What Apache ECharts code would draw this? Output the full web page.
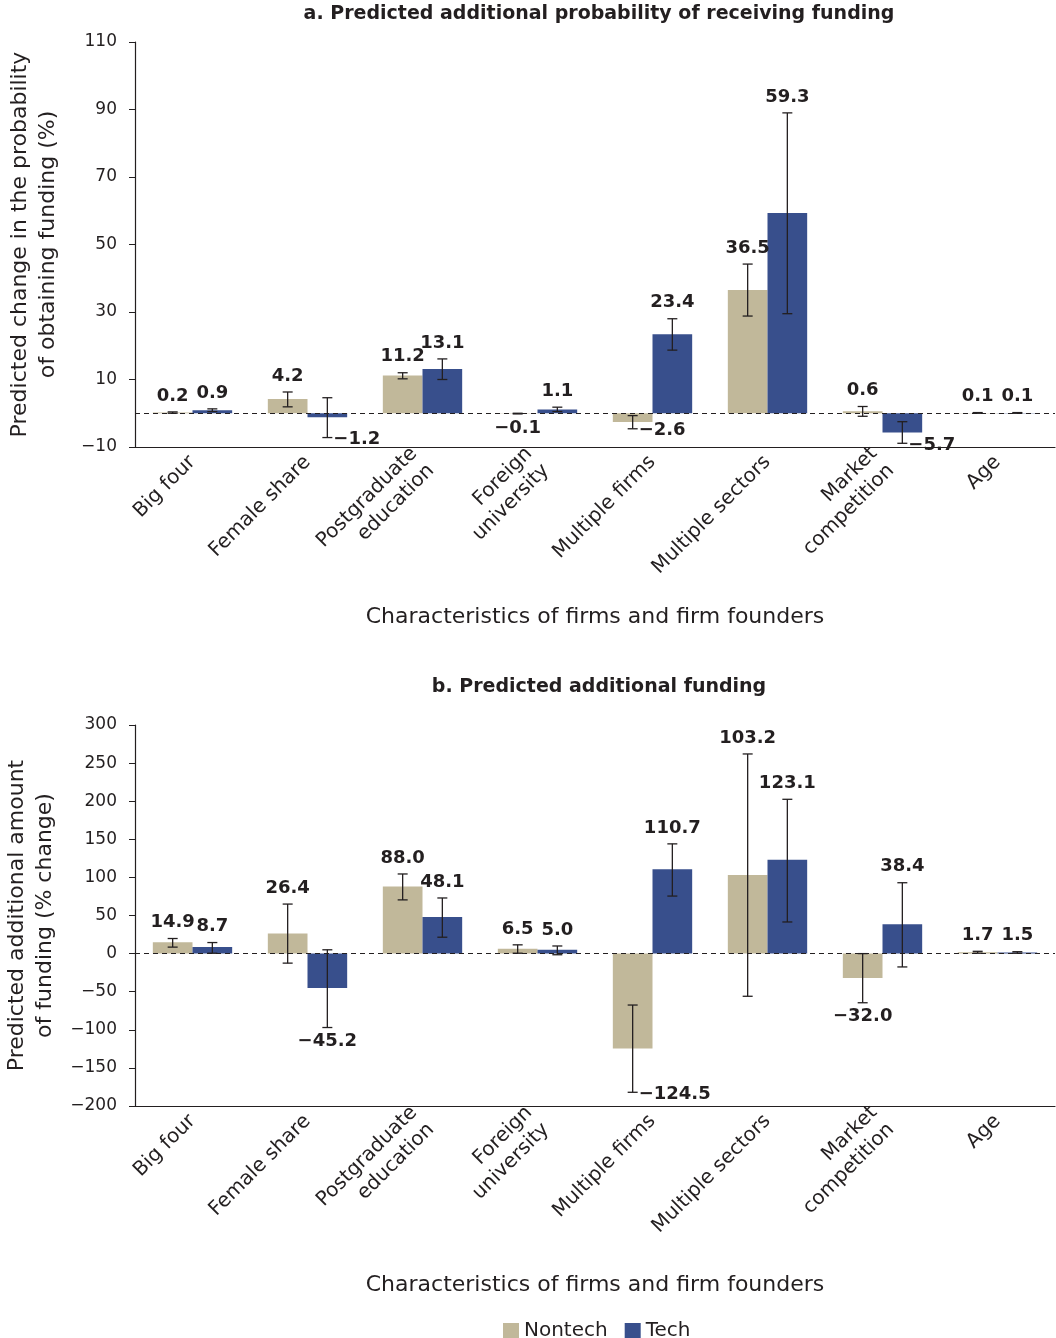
<!DOCTYPE html>
<html>
<head>
<meta charset="utf-8">
<script src="https://cdn.jsdelivr.net/npm/echarts@6/dist/echarts.min.js"></script>
<style>
  html, body { margin: 0; padding: 0; background: #fff; }
  #main { width: 1056px; height: 1338px; }
</style>
</head>
<body>
<div id="main"></div>
<script>
// categories shared by both panels
const categories = ['Big four', 'Female share', 'Postgraduate\neducation', 'Foreign\nuniversity',
  'Multiple firms', 'Multiple sectors', 'Market\ncompetition', 'Age'];

// panel a: predicted additional probability of receiving funding (%)
const probNontech     = [0.2, 4.2, 11.2, -0.1, -2.6, 36.5, 0.6, 0.1];
const probNontechLow  = [0.0, 1.9, 10.2, -0.2, -4.6, 28.8, -0.9, 0.0];
const probNontechHigh = [0.4, 6.3, 12.0, 0.0, -0.7, 44.2, 2.0, 0.2];
const probTech        = [0.9, -1.2, 13.1, 1.1, 23.4, 59.3, -5.7, 0.1];
const probTechLow     = [0.5, -7.2, 10.0, 0.5, 18.7, 29.5, -8.9, 0.0];
const probTechHigh    = [1.3, 4.6, 16.1, 1.8, 28.0, 89.0, -2.5, 0.2];

// panel b: predicted additional funding (% change)
const fundNontech     = [14.9, 26.4, 88.0, 6.5, -124.5, 103.2, -32.0, 1.7];
const fundNontechLow  = [8.5, -12.5, 70.5, 0.5, -182, -56, -64.5, 0.5];
const fundNontechHigh = [19.8, 65, 104.5, 11.5, -67.5, 262, 0, 3.0];
const fundTech        = [8.7, -45.2, 48.1, 5.0, 110.7, 123.1, 38.4, 1.5];
const fundTechLow     = [0.5, -97, 21.5, -1.5, 75.5, 41.5, -17.5, 0.5];
const fundTechHigh    = [14.5, 5, 73, 10, 144, 202.5, 93, 2.5];

const yTicksA = { min: -10, max: 110, interval: 20 };
const yTicksB = { min: -200, max: 300, interval: 50 };

// labels that sit to the right of the lower whisker instead of below it
const rightLabels = {
  aNontech: [4], aTech: [1, 6],
  bNontech: [4], bTech: []
};

const FONT = '"DejaVu Sans", sans-serif';
const INK = '#231f20';
const C_NONTECH = '#c1b89a';
const C_TECH = '#384f8c';

const fmt = v => (v < 0 ? '\u2212' + Math.abs(v).toFixed(1) : v.toFixed(1));
const fmtAxis = v => (v < 0 ? '\u2212' + Math.abs(v) : String(v));

function errData(vals, lo, hi) {
  return vals.map((v, i) => [i, lo[i], hi[i], v]);
}

function errSeries(axis, data, side, rightIdx) {
  return {
    type: 'custom',
    xAxisIndex: axis, yAxisIndex: axis,
    z: 10,
    silent: true,
    encode: { x: 0, y: [1, 2] },
    data: data,
    renderItem: function (params, api) {
      const idx = api.value(0);
      const lo = api.value(1), hi = api.value(2), v = api.value(3);
      const band = api.size([1, 0])[0];
      const x = api.coord([idx, 0])[0] + side * band * 0.1725;
      const yLo = api.coord([idx, lo])[1];
      const yHi = api.coord([idx, hi])[1];
      const yTop = api.coord([idx, Math.max(hi, v)])[1];
      const yBot = api.coord([idx, Math.min(lo, v)])[1];
      const cap = 5;
      const ls = { stroke: INK, lineWidth: 1.3 };
      let tx = x, ty, ta = 'center';
      if (rightIdx.indexOf(idx) >= 0) {
        tx = x + 6; ty = yBot + 2; ta = 'left';
      } else if (v >= 0) {
        ty = yTop - 16;
      } else {
        ty = yBot + 14;
      }
      return {
        type: 'group',
        children: [
          { type: 'line', shape: { x1: x, y1: yLo, x2: x, y2: yHi }, style: ls },
          { type: 'line', shape: { x1: x - cap, y1: yLo, x2: x + cap, y2: yLo }, style: ls },
          { type: 'line', shape: { x1: x - cap, y1: yHi, x2: x + cap, y2: yHi }, style: ls },
          {
            type: 'text',
            style: {
              x: tx, y: ty, text: fmt(v), align: ta, verticalAlign: 'middle',
              fill: INK, font: 'bold 18px ' + FONT
            }
          }
        ]
      };
    }
  };
}

function barSeries(name, axis, data, color, withZero) {
  const s = {
    name: name, type: 'bar',
    xAxisIndex: axis, yAxisIndex: axis,
    data: data,
    barWidth: '34.5%', barGap: '0%',
    itemStyle: { color: color },
    silent: true
  };
  if (withZero) {
    s.markLine = {
      silent: true, symbol: 'none', z: 8,
      label: { show: false },
      lineStyle: { color: INK, type: [5, 4], width: 1.2 },
      data: [{ yAxis: 0 }]
    };
  }
  return s;
}

function xAxis(grid, gap) {
  return {
    type: 'category', gridIndex: grid, data: categories,
    axisLine: { onZero: false, lineStyle: { color: INK, width: 1.2 } },
    axisTick: { length: 7, lineStyle: { color: INK } },
    axisLabel: { rotate: 45, fontSize: 20, color: INK, fontFamily: FONT, margin: 12, lineHeight: 24, interval: 0 },
    name: 'Characteristics of firms and firm founders',
    nameLocation: 'middle', nameGap: gap,
    nameTextStyle: { fontSize: 22, color: INK, fontFamily: FONT }
  };
}

function yAxis(grid, ticks, name) {
  return {
    type: 'value', gridIndex: grid,
    min: ticks.min, max: ticks.max, interval: ticks.interval,
    splitLine: { show: false },
    axisLine: { show: true, lineStyle: { color: INK, width: 1.2 } },
    axisTick: { show: true, length: 6, lineStyle: { color: INK } },
    axisLabel: { fontSize: 17, color: INK, fontFamily: FONT, margin: 18, formatter: fmtAxis },
    name: name, nameLocation: 'middle', nameGap: 73, nameRotate: 90,
    nameTextStyle: { fontSize: 22, color: INK, fontFamily: FONT, lineHeight: 28 }
  };
}

const chart = echarts.init(document.getElementById('main'), null, { renderer: 'canvas' });
chart.setOption({
  animation: false,
  backgroundColor: '#fff',
  textStyle: { fontFamily: FONT },
  title: [
    { text: 'a. Predicted additional probability of receiving funding', left: 599, top: 5, textAlign: 'center', padding: 0,
      textStyle: { fontSize: 19, fontWeight: 'bold', color: INK, fontFamily: FONT } },
    { text: 'b. Predicted additional funding', left: 599, top: 678, textAlign: 'center', padding: 0,
      textStyle: { fontSize: 19, fontWeight: 'bold', color: INK, fontFamily: FONT } }
  ],
  legend: {
    data: ['Nontech', 'Tech'],
    left: 498, top: 1316,
    itemWidth: 16, itemHeight: 16, itemGap: 17, icon: 'rect',
    textStyle: { fontSize: 20, color: INK, fontFamily: FONT }
  },
  grid: [
    { left: 135, right: 1, top: 42, height: 405, containLabel: false, outerBoundsMode: 'none' },
    { left: 135, right: 1, top: 725, height: 381, containLabel: false, outerBoundsMode: 'none' }
  ],
  xAxis: [xAxis(0, 159), xAxis(1, 168)],
  yAxis: [
    yAxis(0, yTicksA, 'Predicted change in the probability\nof obtaining funding (%)'),
    yAxis(1, yTicksB, 'Predicted additional amount\nof funding (% change)')
  ],
  series: [
    barSeries('Nontech', 0, probNontech, C_NONTECH, true),
    barSeries('Tech', 0, probTech, C_TECH, false),
    barSeries('Nontech', 1, fundNontech, C_NONTECH, true),
    barSeries('Tech', 1, fundTech, C_TECH, false),
    errSeries(0, errData(probNontech, probNontechLow, probNontechHigh), -1, rightLabels.aNontech),
    errSeries(0, errData(probTech, probTechLow, probTechHigh), 1, rightLabels.aTech),
    errSeries(1, errData(fundNontech, fundNontechLow, fundNontechHigh), -1, rightLabels.bNontech),
    errSeries(1, errData(fundTech, fundTechLow, fundTechHigh), 1, rightLabels.bTech)
  ]
});
</script>
</body>
</html>
